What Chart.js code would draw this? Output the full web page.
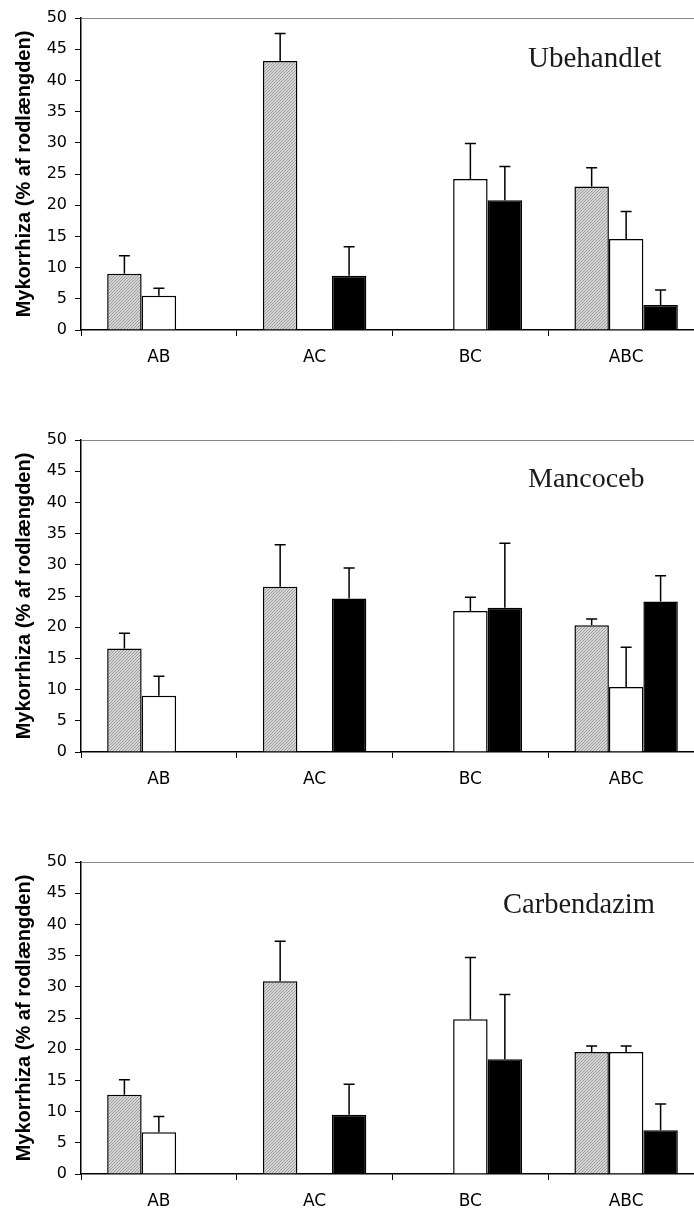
<!DOCTYPE html>
<html><head><meta charset="utf-8">
<script src="https://cdn.jsdelivr.net/npm/chart.js@4.4.1/dist/chart.umd.min.js"></script>
<style>
html,body{margin:0;padding:0;overflow:hidden;background:#fff;width:694px;height:1212px;}
canvas{position:absolute;left:0;}
</style></head><body>
<canvas id="c1" width="720" height="380" style="top:0px"></canvas>
<canvas id="c2" width="720" height="412" style="top:390px"></canvas>
<canvas id="c3" width="720" height="424" style="top:800px"></canvas>
<script>
// ---------- data ----------
const categories = ['AB', 'AC', 'BC', 'ABC'];
const yAxisTitle = 'Mykorrhiza (% af rodlængden)';
const yMin = 0, yMax = 50, yStep = 5;

const panelNames = ['Ubehandlet', 'Mancoceb', 'Carbendazim'];

// Ubehandlet
const greyU = [9.0, 43.1, 0, 23.0];
const greyUErr = [2.9, 4.4, 0, 3.0];
const whiteU = [5.5, 0, 24.2, 14.6];
const whiteUErr = [1.2, 0, 5.7, 4.4];
const blackU = [0, 8.7, 20.8, 4.0];
const blackUErr = [0, 4.65, 5.4, 2.4];

// Mancoceb
const greyM = [16.6, 26.5, 0, 20.3];
const greyMErr = [2.45, 6.7, 0, 1.0];
const whiteM = [9.0, 0, 22.6, 10.4];
const whiteMErr = [3.15, 0, 2.2, 6.4];
const blackM = [0, 24.6, 23.1, 24.1];
const blackMErr = [0, 4.9, 10.35, 4.15];

// Carbendazim
const greyC = [12.7, 30.9, 0, 19.55];
const greyCErr = [2.4, 6.4, 0, 0.95];
const whiteC = [6.7, 0, 24.8, 19.55];
const whiteCErr = [2.5, 0, 9.9, 0.95];
const blackC = [0, 9.5, 18.4, 7.0];
const blackCErr = [0, 4.9, 10.35, 4.2];

// ---------- layout / style ----------
const layouts = [
  {id: 'c1', padTop: 18, label: {x: 528, y: 67, size: 29}},
  {id: 'c2', padTop: 50, label: {x: 528, y: 96.7, size: 28}},
  {id: 'c3', padTop: 62, label: {x: 503, y: 112.7, size: 28.5}}
];

function hatch(ctx) {
  const t = document.createElement('canvas');
  t.width = 3; t.height = 3;
  const g = t.getContext('2d');
  g.fillStyle = '#d6d6d6';
  g.fillRect(0, 0, 3, 3);
  g.fillStyle = '#9c9c9c';
  // diagonal "/" pixels
  g.fillRect(2, 0, 1, 1);
  g.fillRect(1, 1, 1, 1);
  g.fillRect(0, 2, 1, 1);
  return ctx.createPattern(t, 'repeat');
}

const errorBars = {
  id: 'errorBars',
  afterDatasetsDraw(chart) {
    const ctx = chart.ctx, y = chart.scales.y;
    chart.data.datasets.forEach((ds, i) => {
      const meta = chart.getDatasetMeta(i);
      meta.data.forEach((bar, j) => {
        const e = ds.errors[j];
        if (!e) return;
        const top = y.getPixelForValue(ds.data[j] + e);
        ctx.save();
        ctx.strokeStyle = '#000';
        ctx.lineWidth = 1.5;
        ctx.beginPath();
        ctx.moveTo(bar.x, bar.y);
        ctx.lineTo(bar.x, top);
        ctx.moveTo(bar.x - 5.5, top);
        ctx.lineTo(bar.x + 5.5, top);
        ctx.stroke();
        ctx.restore();
      });
    });
  }
};

const panelLabel = {
  id: 'panelLabel',
  afterDraw(chart, args, opts) {
    const ctx = chart.ctx;
    ctx.save();
    ctx.font = opts.size + 'px "Liberation Serif", serif';
    ctx.fillStyle = '#1a1a1a';
    ctx.textAlign = 'left';
    ctx.textBaseline = 'alphabetic';
    ctx.fillText(opts.text, opts.x, opts.y);
    ctx.restore();
  }
};

const series = [
  [[greyU, greyUErr], [whiteU, whiteUErr], [blackU, blackUErr]],
  [[greyM, greyMErr], [whiteM, whiteMErr], [blackM, blackMErr]],
  [[greyC, greyCErr], [whiteC, whiteCErr], [blackC, blackCErr]]
];

layouts.forEach((L, p) => {
  const canvas = document.getElementById(L.id);
  const ctx = canvas.getContext('2d');
  const fills = [hatch(ctx), '#ffffff', '#000000'];
  new Chart(ctx, {
    type: 'bar',
    data: {
      labels: categories,
      datasets: series[p].map((s, k) => ({
        data: s[0],
        errors: s[1],
        backgroundColor: fills[k],
        borderColor: '#000',
        borderWidth: 1.5,
        borderSkipped: 'start',
        barPercentage: 1,
        categoryPercentage: 0.664
      }))
    },
    options: {
      responsive: false,
      animation: false,
      devicePixelRatio: 1,
      layout: {padding: {top: L.padTop, left: 0, right: 16, bottom: 0}},
      plugins: {
        legend: {display: false},
        tooltip: {enabled: false},
        title: {display: false},
        panelLabel: {text: panelNames[p], x: L.label.x, y: L.label.y, size: L.label.size}
      },
      scales: {
        x: {
          offset: true,
          afterFit: (s) => { s.height = 50; },
          grid: {display: true, offset: true, drawOnChartArea: false, drawTicks: true, tickLength: 6, color: '#000', lineWidth: 1},
          border: {display: true, color: '#000', width: 1.5},
          ticks: {color: '#000', font: {family: 'DejaVu Sans', size: 17}, padding: 11, maxRotation: 0}
        },
        y: {
          min: yMin, max: yMax,
          afterFit: (s) => { s.width = 81; },
          grid: {
            display: true, drawOnChartArea: true, drawTicks: true, tickLength: 6,
            color: (c) => (c.tick && c.tick.value === yMax ? '#888' : 'rgba(0,0,0,0)'),
            tickColor: '#000', lineWidth: 1
          },
          border: {display: true, color: '#000', width: 1.5},
          ticks: {stepSize: yStep, color: '#000', font: {family: 'DejaVu Sans', size: 16}, padding: 8},
          title: {display: true, text: yAxisTitle, color: '#000', font: {family: 'Liberation Sans', size: 20, weight: 'bold'}, padding: {top: 12, bottom: 0}}
        }
      }
    },
    plugins: [errorBars, panelLabel]
  });
});
</script>
</body></html>
